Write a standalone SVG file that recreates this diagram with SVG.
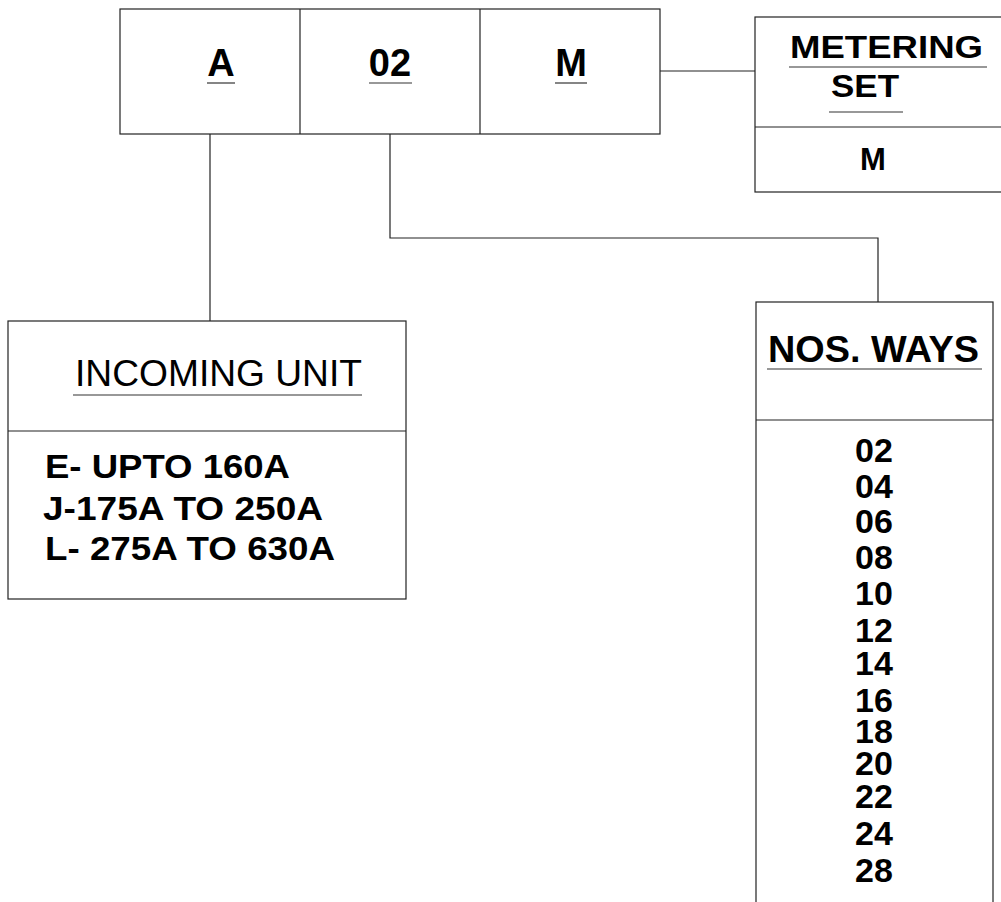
<svg xmlns="http://www.w3.org/2000/svg" width="1001" height="902" viewBox="0 0 1001 902">
<style>
.box{fill:#fff;stroke:#222;stroke-width:1.2}
.ln{fill:none;stroke:#222;stroke-width:1.2}
.ul{stroke:#333;stroke-width:1.2}
text{font-family:"Liberation Sans",Arial,sans-serif;fill:#000}
.b{font-weight:bold}
.num{font-weight:bold;font-size:34px;text-anchor:middle}
</style>
<rect width="1001" height="902" fill="#fff"/>
<g id="connectors">
<path class="ln" d="M210,134 V321"/>
<path class="ln" d="M390,134 V238 H878 V302"/>
<path class="ln" d="M660,71 H755"/>
</g>
<g id="code-box">
<rect class="box" x="120" y="9" width="540" height="125"/>
<line class="ln" x1="300" y1="9" x2="300" y2="134"/>
<line class="ln" x1="480" y1="9" x2="480" y2="134"/>
<text class="b" x="221" y="76" font-size="38" text-anchor="middle">A</text>
<line class="ul" x1="207" y1="83" x2="235" y2="83"/>
<text class="b" x="390" y="76" font-size="38" text-anchor="middle">02</text>
<line class="ul" x1="369" y1="83" x2="412" y2="83"/>
<text class="b" x="571" y="76" font-size="38" text-anchor="middle">M</text>
<line class="ul" x1="555" y1="83" x2="587" y2="83"/>
</g>
<g id="metering-set">
<rect class="box" x="755" y="17" width="250" height="175"/>
<line class="ln" x1="755" y1="127" x2="1001" y2="127"/>
<text class="b" x="790" y="58" font-size="32" textLength="193" lengthAdjust="spacingAndGlyphs">METERING</text>
<line class="ul" x1="789" y1="67" x2="987" y2="67"/>
<text class="b" x="831" y="97" font-size="32" textLength="68" lengthAdjust="spacingAndGlyphs">SET</text>
<line class="ul" x1="829" y1="112" x2="903" y2="112"/>
<text class="b" x="873" y="170" font-size="31" text-anchor="middle">M</text>
</g>
<g id="incoming-unit">
<rect class="box" x="8" y="321" width="398" height="278"/>
<line class="ln" x1="8" y1="431" x2="406" y2="431"/>
<text x="75" y="386" font-size="36" textLength="287" lengthAdjust="spacingAndGlyphs">INCOMING UNIT</text>
<line class="ul" x1="73" y1="395" x2="362" y2="395"/>
<text class="b" x="45" y="478" font-size="33" textLength="245" lengthAdjust="spacingAndGlyphs">E- UPTO 160A</text>
<text class="b" x="43" y="520" font-size="33" textLength="280" lengthAdjust="spacingAndGlyphs">J-175A TO 250A</text>
<text class="b" x="45" y="560" font-size="33" textLength="290" lengthAdjust="spacingAndGlyphs">L- 275A TO 630A</text>
</g>
<g id="nos-ways">
<rect class="box" x="756" y="302" width="237" height="620"/>
<line class="ln" x1="756" y1="420" x2="993" y2="420"/>
<text class="b" x="768" y="362" font-size="37" textLength="211" lengthAdjust="spacingAndGlyphs">NOS. WAYS</text>
<line class="ul" x1="767" y1="369" x2="982" y2="369"/>
<text class="num" x="874" y="462">02</text>
<text class="num" x="874" y="498">04</text>
<text class="num" x="874" y="533">06</text>
<text class="num" x="874" y="569">08</text>
<text class="num" x="874" y="605">10</text>
<text class="num" x="874" y="642">12</text>
<text class="num" x="874" y="675">14</text>
<text class="num" x="874" y="712">16</text>
<text class="num" x="874" y="743">18</text>
<text class="num" x="874" y="775">20</text>
<text class="num" x="874" y="808">22</text>
<text class="num" x="874" y="845">24</text>
<text class="num" x="874" y="882">28</text>
</g>
</svg>
